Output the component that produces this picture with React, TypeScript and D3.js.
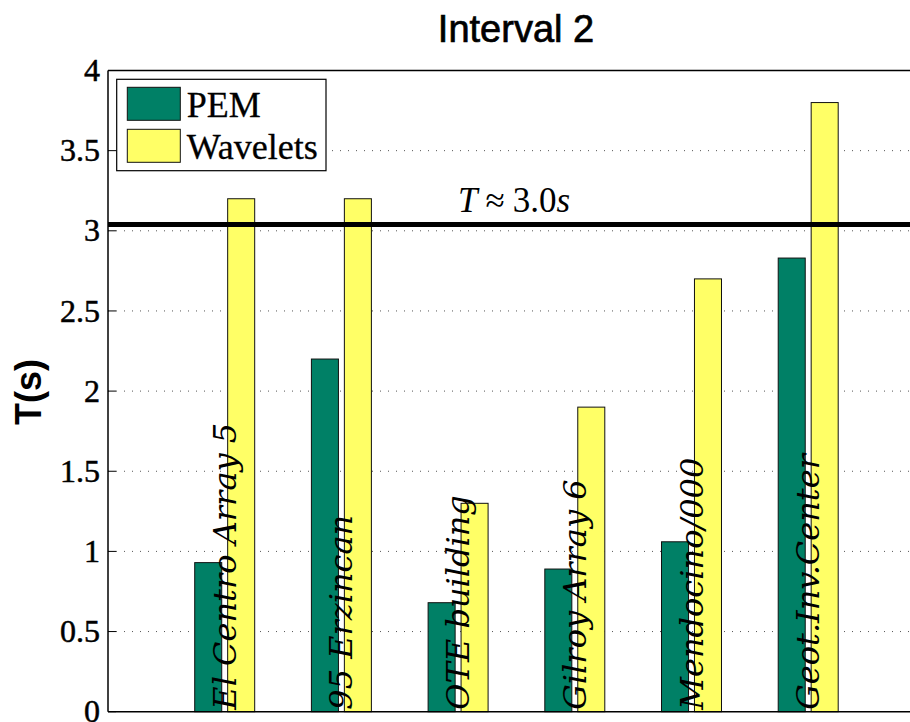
import React from "react";
import * as d3 from "d3";

// Records and their identified periods T (s) per method
const records = [
  "El Centro Array 5",
  "95 Erzincan",
  "OTE building",
  "Gilroy Array 6",
  "Mendocino/000",
  "Geot.Inv.Center",
];
const pemValues = [0.93, 2.2, 0.68, 0.89, 1.06, 2.83];
const waveletValues = [3.2, 3.2, 1.3, 1.9, 2.7, 3.8];
const seriesNames = ["PEM", "Wavelets"];
const seriesColors = ["#008066", "#FFFF66"];
const yTicks = [0, 0.5, 1, 1.5, 2, 2.5, 3, 3.5, 4];
const referencePeriod = 3.04;

const W = 910;
const H = 722;
const left = 108;
const top = 70.5;
const bottom = 711.7;

export default function App() {
  const x = d3.scaleLinear().domain([0, 7]).range([left, left + 7 * 116.7]);
  const y = d3.scaleLinear().domain([0, 4]).range([bottom, top]);
  const unit = x(1) - x(0);
  const sub = d3
    .scaleBand<string>()
    .domain(seriesNames)
    .range([-0.257 * unit, 0.257 * unit])
    .paddingInner(0.18)
    .paddingOuter(0);

  const series = [pemValues, waveletValues];
  const serif = "'Liberation Serif', 'Times New Roman', serif";
  const sans = "'Liberation Sans', Arial, sans-serif";

  return (
    <svg
      width={W}
      height={H}
      style={{ position: "absolute", left: 0, top: 0, background: "#fff" }}
    >
      {/* title */}
      <text
        x={516}
        y={41.7}
        textAnchor="middle"
        fontFamily={sans}
        fontSize={38}
        fill="#000"
        stroke="#000"
        strokeWidth={0.7}
      >
        Interval 2
      </text>

      {/* y axis label */}
      <text
        transform={`translate(41,392) rotate(-90)`}
        textAnchor="middle"
        fontFamily={sans}
        fontWeight="bold"
        fontSize={36}
      >
        T(s)
      </text>

      {/* grid */}
      {yTicks
        .filter((t) => t > 0 && t < 4)
        .map((t) => (
          <line
            key={"g" + t}
            x1={left}
            x2={W}
            y1={y(t)}
            y2={y(t)}
            stroke="#555"
            strokeWidth={1}
            strokeDasharray="1,7"
          />
        ))}

      {/* bars */}
      {records.map((r, i) =>
        series.map((vals, s) => {
          const x0 = x(i + 1) + (sub(seriesNames[s]) as number);
          return (
            <rect
              key={r + s}
              x={x0}
              y={y(vals[i])}
              width={sub.bandwidth()}
              height={y(0) - y(vals[i])}
              fill={seriesColors[s]}
              stroke="#111"
              strokeWidth={1}
            />
          );
        })
      )}

      {/* reference period line */}
      <line
        x1={left}
        x2={W}
        y1={y(referencePeriod)}
        y2={y(referencePeriod)}
        stroke="#000"
        strokeWidth={5}
      />
      <text x={458} y={211.7} fontFamily={serif} fontSize={35}>
        <tspan fontStyle="italic">T</tspan>
        <tspan dx={8}>≈</tspan>
        <tspan dx={8}>3.0</tspan>
        <tspan fontStyle="italic">s</tspan>
      </text>

      {/* axes frame */}
      <line x1={left} x2={W} y1={top} y2={top} stroke="#000" strokeWidth={1.5} />
      <line x1={left} x2={W} y1={bottom} y2={bottom} stroke="#000" strokeWidth={1.5} />
      <line x1={left} x2={left} y1={top} y2={bottom} stroke="#000" strokeWidth={1.5} />

      {/* y ticks */}
      {yTicks.map((t) => (
        <g key={"t" + t}>
          <line x1={left} x2={left + 8} y1={y(t)} y2={y(t)} stroke="#000" strokeWidth={1} />
          <text
            x={100}
            y={y(t)}
            dy="0.33em"
            textAnchor="end"
            fontFamily={serif}
            fontSize={32}
            stroke="#000"
            strokeWidth={0.5}
          >
            {t}
          </text>
        </g>
      ))}

      {/* record labels */}
      {records.map((r, i) => (
        <text
          key={"l" + r}
          transform={`translate(${x(i + 1) + 11},${bottom - 2}) rotate(-90)`}
          fontFamily="'DejaVu Serif', serif"
          fontStyle="italic"
          fontSize={32}
          fill="#000"
        >
          {r}
        </text>
      ))}

      {/* legend */}
      <g>
        <rect x={116.7} y={79.3} width={209.3} height={91.4} fill="#fff" stroke="#000" strokeWidth={1.2} />
        {seriesNames.map((n, s) => (
          <g key={n}>
            <rect
              x={127.3}
              y={87.3 + s * 42}
              width={53}
              height={33}
              fill={seriesColors[s]}
              stroke="#111"
              strokeWidth={1}
            />
            <text
              x={186.7}
              y={117.3 + s * 42}
              fontFamily={serif}
              fontSize={36}
              stroke="#000"
              strokeWidth={0.3}
            >
              {n}
            </text>
          </g>
        ))}
      </g>
    </svg>
  );
}
